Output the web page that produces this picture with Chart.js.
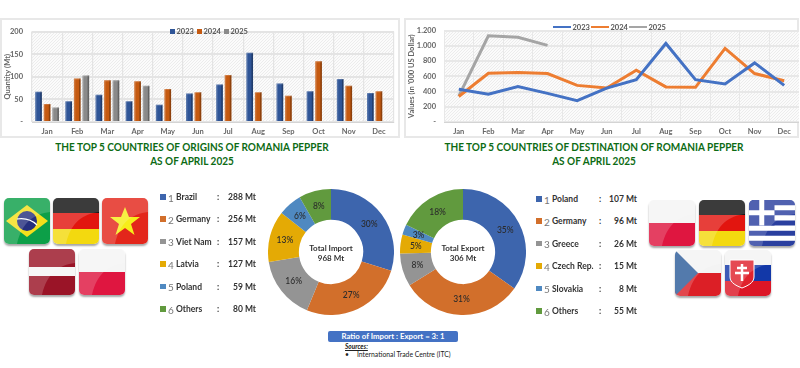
<!DOCTYPE html>
<html>
<head>
<meta charset="utf-8">
<title>Romania pepper trade</title>
<script src="https://cdn.jsdelivr.net/npm/chart.js@4/dist/chart.umd.min.js"></script>
<style>
  html, body { margin: 0; padding: 0; background: #fff; }
  body { width: 800px; height: 368px; position: relative; overflow: hidden; font-family: Lato, sans-serif; }
  .abs { position: absolute; }
  canvas { position: absolute; }
  .frame { position: absolute; border: 2px solid #e8e8e8; box-sizing: border-box; }
  .title { position: absolute; width: 400px; text-align: center; color: #0d6b14; font-weight: 700; font-size: 12px; line-height: 14px; white-space: nowrap; transform: scaleX(.835); }
  .legend { position: absolute; font-size: 7.5px; font-weight: 700; color: #555; white-space: nowrap; line-height: 9px; }
  .legend i { position: absolute; top: 2px; }
  .legend span { position: absolute; top: 0; }
  .row { position: absolute; height: 12px; line-height: 12px; font-size: 8.5px; font-weight: 700; color: #333; white-space: nowrap; }
  .row b { position: absolute; top: 3px; width: 5.5px; height: 5.5px; }
  .row em { position: absolute; font-style: normal; font-weight: 400; color: #777; font-size: 10px; top: 0.5px; }
  .row span { position: absolute; top: 0; }
  .center { position: absolute; width: 70px; text-align: center; font-size: 8px; font-weight: 700; color: #333; line-height: 10px; }
  .ratio { position: absolute; left: 328px; top: 331px; width: 130px; height: 11px; line-height: 11px; background: #4472c4; border-radius: 2px; color: #fff; font-size: 7.8px; font-weight: 700; text-align: center; }
  .flag { position: absolute; width: 46px; height: 46px; border-radius: 5px; overflow: hidden; box-shadow: 0 2px 2px rgba(0,0,0,.35); }
  .flag svg { display: block; }
</style>
</head>
<body>

<div class="frame" style="left:0;top:18px;width:400px;height:120px"></div>
<div class="frame" style="left:404px;top:18px;width:395px;height:120px"></div>
<canvas id="barChart" style="left:0;top:18px"></canvas>
<canvas id="lineChart" style="left:404px;top:18px"></canvas>
<canvas id="importChart" style="left:268px;top:189px"></canvas>
<canvas id="exportChart" style="left:400px;top:189px"></canvas>

<div class="title" style="left:-8px;top:140px">THE TOP 5 COUNTRIES OF ORIGINS OF ROMANIA PEPPER<br>AS OF APRIL 2025</div>
<div class="title" style="left:394px;top:140px">THE TOP 5 COUNTRIES OF DESTINATION OF ROMANIA PEPPER<br>AS OF APRIL 2025</div>

<div class="center" style="left:296px;top:243px">Total Import<br>968 Mt</div>
<div class="center" style="left:428px;top:243px">Total Export<br>306 Mt</div>

<div class="ratio">Ratio of Import : Export = 3: 1</div>
<div class="abs" style="left:345px;top:343px;font-size:6.5px;font-style:italic;font-weight:700;text-decoration:underline;color:#222;line-height:8px">Sources:</div>
<div class="abs" style="left:345px;top:350px;font-size:6.8px;color:#222;line-height:8px">•</div>
<div class="abs" style="left:357px;top:350px;font-size:6.8px;color:#222;line-height:8px;white-space:nowrap">International Trade Centre (ITC)</div>

<script>
// CHART DATA
const months = ['Jan', 'Feb', 'Mar', 'Apr', 'May', 'Jun', 'Jul', 'Aug', 'Sep', 'Oct', 'Nov', 'Dec'];
const years = ['2023', '2024', '2025'];

// Import quantity per month (Mt)
const import2023 = [67, 46, 60, 46, 38, 63, 83, 153, 85, 68, 95, 64];
const import2024 = [40, 96, 92, 90, 73, 66, 104, 66, 58, 134, 80, 68];
const import2025 = [32, 103, 92, 80];
const importTicks = ['-', '50', '100', '150', '200'];

// Export value per month ('000 US Dollar)
const export2023 = [430, 365, 465, 375, 280, 445, 555, 1030, 555, 500, 775, 480];
const export2024 = [335, 640, 650, 635, 480, 445, 680, 460, 455, 965, 635, 540];
const export2025 = [340, 1130, 1110, 1005];
const exportTicks = ['-', '200', '400', '600', '800', '1.000', '1.200'];

// Top countries
const importNames = ['Brazil', 'Germany', 'Viet Nam', 'Latvia', 'Poland', 'Others'];
const importValues = [288, 256, 157, 127, 59, 80];
const importPct = ['30%', '27%', '16%', '13%', '6%', '8%'];

const exportNames = ['Poland', 'Germany', 'Greece', 'Czech Rep.', 'Slovakia', 'Others'];
const exportValues = [107, 96, 26, 15, 8, 55];
const exportPct = ['35%', '31%', '8%', '5%', '3%', '18%'];

// COLORS
const barColors = ['#2f5597', '#c55a11', '#8a8a8a'];
const lineColors = ['#4472c4', '#ed7d31', '#a5a5a5'];
const pieColors = ['#3d65ad', '#d26f2b', '#949494', '#e4aa05', '#4f89c1', '#619a3e'];
const tickFont = { family: 'Lato', size: 7.5, weight: '700' };
const tickColor = '#666';


// HATCHED PLOT BACKGROUND
function hatchPattern(ctx) {
  const c = document.createElement('canvas');
  c.width = 3;
  c.height = 3;
  const p = c.getContext('2d');
  p.fillStyle = '#fbfbfb';
  p.fillRect(0, 0, 3, 3);
  p.fillStyle = '#ececec';
  p.fillRect(0, 2, 1, 1);
  p.fillRect(1, 1, 1, 1);
  p.fillRect(2, 0, 1, 1);
  return ctx.createPattern(c, 'repeat');
}

const hatchPlugin = {
  id: 'hatch',
  beforeDraw(chart) {
    const { ctx, chartArea: a } = chart;
    ctx.save();
    ctx.fillStyle = hatchPattern(ctx);
    ctx.fillRect(a.left, a.top, a.width, a.height);
    ctx.restore();
  }
};

// Shades each bar so it looks like the bevelled bars of the original
const bevelPlugin = {
  id: 'bevel',
  afterDatasetsDraw(chart) {
    const ctx = chart.ctx;
    ctx.save();
    chart.data.datasets.forEach((ds, i) => {
      chart.getDatasetMeta(i).data.forEach((bar) => {
        const left = bar.x - bar.width / 2;
        const h = bar.base - bar.y;
        ctx.fillStyle = 'rgba(0,0,0,0.28)';
        ctx.fillRect(left + bar.width - 1.6, bar.y, 1.6, h);
        ctx.fillStyle = 'rgba(255,255,255,0.18)';
        ctx.fillRect(left, bar.y, 1.4, h);
        ctx.fillRect(left, bar.y, bar.width, 1);
      });
    });
    ctx.restore();
  }
};

// Writes the percentage in the middle of each slice
const sliceLabelPlugin = {
  id: 'sliceLabels',
  afterDatasetsDraw(chart, args, opts) {
    const ctx = chart.ctx;
    ctx.save();
    ctx.font = '500 8.5px Lato';
    ctx.fillStyle = '#2b2b2b';
    ctx.textAlign = 'center';
    ctx.textBaseline = 'middle';
    chart.getDatasetMeta(0).data.forEach((arc, i) => {
      const pos = arc.tooltipPosition();
      ctx.fillText(opts.labels[i], pos.x, pos.y);
    });
    ctx.restore();
  }
};


// BUILD BAR CHART (IMPORT QUANTITY)
function buildBarChart() {
  const el = document.getElementById('barChart');
  el.width = 400;
  el.height = 119;

  new Chart(el, {
    type: 'bar',
    data: {
      labels: months,
      datasets: [import2023, import2024, import2025].map((d, i) => ({
        label: years[i],
        data: d,
        backgroundColor: barColors[i],
        categoryPercentage: 0.85,
        barPercentage: 0.78
      }))
    },
    options: {
      responsive: false,
      animation: false,
      layout: { padding: { top: 5, right: 6, left: 3, bottom: 0 } },
      plugins: { legend: { display: false }, tooltip: { enabled: false } },
      scales: {
        x: {
          afterFit: (s) => { s.height = 15; },
          grid: { color: '#e4e4e4', lineWidth: 1.2, drawTicks: false },
          border: { color: '#d4d4d4' },
          ticks: { font: tickFont, color: tickColor, padding: 5, maxRotation: 0 }
        },
        y: {
          min: 0,
          max: 200,
          afterFit: (s) => { s.width = 29; },
          title: { display: true, text: 'Quantity (Mt)', font: tickFont, color: tickColor, padding: 0 },
          grid: { color: '#e4e4e4', lineWidth: 2, drawTicks: false },
          border: { display: false },
          ticks: {
            stepSize: 50,
            padding: 9,
            font: tickFont,
            color: tickColor,
            callback: (v, i) => importTicks[i]
          }
        }
      }
    },
    plugins: [hatchPlugin, bevelPlugin]
  });
}

// BUILD LINE CHART (EXPORT VALUE)
function buildLineChart() {
  const el = document.getElementById('lineChart');
  el.width = 395;
  el.height = 119;

  new Chart(el, {
    type: 'line',
    data: {
      labels: months,
      datasets: [export2023, export2024, export2025].map((d, i) => ({
        label: years[i],
        data: d,
        borderColor: lineColors[i],
        borderWidth: 3,
        pointRadius: 0,
        tension: 0,
        fill: false
      }))
    },
    options: {
      responsive: false,
      animation: false,
      layout: { padding: { top: 5, right: 0, left: 3, bottom: 0 } },
      plugins: { legend: { display: false }, tooltip: { enabled: false } },
      scales: {
        x: {
          offset: true,
          afterFit: (s) => { s.height = 15; },
          grid: { offset: true, color: '#e8e8e8', lineWidth: 1, drawTicks: false },
          border: { color: '#d4d4d4' },
          ticks: { font: tickFont, color: tickColor, padding: 5, maxRotation: 0 }
        },
        y: {
          min: 0,
          max: 1200,
          afterFit: (s) => { s.width = 37; },
          title: { display: true, text: "Values (in '000 US Dollar)", font: tickFont, color: tickColor, padding: 0 },
          grid: { color: '#e8e8e8', lineWidth: 2, drawTicks: false },
          border: { display: false },
          ticks: {
            stepSize: 200,
            padding: 8,
            font: tickFont,
            color: tickColor,
            callback: (v, i) => exportTicks[i]
          }
        }
      }
    },
    plugins: [hatchPlugin]
  });
}

// BUILD DOUGHNUT CHART
function buildDoughnut(id, values, names, pct) {
  const el = document.getElementById(id);
  el.width = 126;
  el.height = 126;

  new Chart(el, {
    type: 'doughnut',
    data: {
      labels: names,
      datasets: [{ data: values, backgroundColor: pieColors, borderWidth: 0 }]
    },
    options: {
      responsive: false,
      animation: false,
      cutout: '51%',
      layout: { padding: 0 },
      plugins: {
        legend: { display: false },
        tooltip: { enabled: false },
        sliceLabels: { labels: pct }
      }
    },
    plugins: [sliceLabelPlugin]
  });
}


// HTML LEGENDS OVER THE TWO PLOTS
function addLegend(items) {
  const box = document.createElement('div');
  box.className = 'legend';
  box.style.left = '0';
  box.style.top = '0';
  items.forEach((it) => {
    const mark = document.createElement('i');
    mark.style.cssText = `left:${it.x}px;top:${it.y + (it.h < 3 ? 3 : 2)}px;width:${it.w}px;height:${it.h}px;background:${it.color}`;
    const text = document.createElement('span');
    text.style.cssText = `left:${it.x + it.w + 1.5}px;top:${it.y}px`;
    text.textContent = it.text;
    box.append(mark, text);
  });
  document.body.appendChild(box);
}

// COUNTRY LISTS
function addList(names, values, colors, pos) {
  names.forEach((name, i) => {
    const top = pos.top + i * 22.4;
    const row = document.createElement('div');
    row.className = 'row';
    row.style.cssText = `left:${pos.left}px;top:${top}px;width:110px`;
    row.innerHTML = `
      <b style="left:0;background:${colors[i]}"></b>
      <em style="left:8px">${i + 1}</em>
      <span style="left:16px">${name}</span>
      <span style="left:${pos.colon}px">:</span>
      <span style="right:${110 - pos.valueEnd}px">${values[i]} Mt</span>
    `;
    document.body.appendChild(row);
  });
}


// FLAGS (SVG TILES)
const gloss = '<path d="M0 0H46V14C30 16 18 24 13 46H0Z" fill="#fff" opacity=".18"/>';
const flags = {
  brazil: '<rect width="46" height="46" fill="#0d9f48"/><path d="M23 7L44 23L23 39L2 23Z" fill="#f5df1c"/><circle cx="23" cy="23" r="10" fill="#26307e"/><path d="M13 21C20 20 28 22 33 27" stroke="#fff" stroke-width="1.2" fill="none"/>',
  germany: '<rect width="46" height="16" fill="#111"/><rect y="15" width="46" height="16" fill="#e2150f"/><rect y="31" width="46" height="15" fill="#f3d90f"/>',
  vietnam: '<rect width="46" height="46" fill="#e3261b"/><path d="M23 9L27 19H38L29 26L32.500 37L23 30L13.500 37L17 26L8 19H19Z" fill="#f6ee1a"/>',
  latvia: '<rect width="46" height="46" fill="#9a1427"/><rect y="18" width="46" height="9" fill="#f6f6f6"/>',
  poland: '<rect width="46" height="23" fill="#f5f5f5"/><rect y="23" width="46" height="23" fill="#df1640"/>',
  greece: '<rect width="46" height="46" fill="#2a3f9f"/><path d="M0 7.700H46M0 17.900H46M0 28.100H46M0 38.300H46" stroke="#fff" stroke-width="5.100"/><rect width="25.500" height="25.500" fill="#2a3f9f"/><path d="M0 12.750H25.500M12.750 0V25.500" stroke="#fff" stroke-width="5"/>',
  czech: '<rect width="46" height="23" fill="#f3f3f3"/><rect y="23" width="46" height="23" fill="#dc1f26"/><path d="M0 0L23 23L0 46Z" fill="#2e5d9a"/>',
  slovakia: '<rect width="46" height="15" fill="#f3f3f3"/><rect y="15" width="46" height="16" fill="#1238a8"/><rect y="31" width="46" height="15" fill="#dc1626"/><path d="M5 10H29V27C29 33 22 36 17 38C12 36 5 33 5 27Z" fill="#e0222c" stroke="#fff"/><path d="M17 14V31M12 18H22M10 23H24" stroke="#fff" stroke-width="2.5"/>'
};

function addFlag(name, x, y) {
  const d = document.createElement('div');
  d.className = 'flag';
  d.style.left = x + 'px';
  d.style.top = y + 'px';
  d.innerHTML = `<svg width="46" height="46" viewBox="0 0 46 46">${flags[name]}${gloss}</svg>`;
  document.body.appendChild(d);
}

function addFlags() {
  addFlag('brazil', 4, 198);
  addFlag('germany', 53, 198);
  addFlag('vietnam', 102, 198);
  addFlag('latvia', 29, 249);
  addFlag('poland', 79, 249);

  addFlag('poland', 649, 200);
  addFlag('germany', 699, 200);
  addFlag('greece', 749, 200);
  addFlag('czech', 675, 250);
  addFlag('slovakia', 725, 250);
}


// INITIAL FUNCTION
function init() {
  buildBarChart();
  buildLineChart();
  buildDoughnut('importChart', importValues, importNames, importPct);
  buildDoughnut('exportChart', exportValues, exportNames, exportPct);

  addLegend(years.map((y, i) => ({ x: 170 + i * 27, y: 27, w: 5, h: 5, color: barColors[i], text: y })));
  addLegend(years.map((y, i) => ({ x: 553 + i * 38, y: 23, w: 18, h: 2.2, color: lineColors[i], text: y })));

  addList(importNames, importValues, pieColors, { left: 160, top: 191, colon: 57, valueEnd: 96 });
  addList(exportNames, exportValues, pieColors, { left: 536, top: 193, colon: 63, valueEnd: 101 });
  addFlags();
}

document.addEventListener('DOMContentLoaded', init);
</script>
</body>
</html>
